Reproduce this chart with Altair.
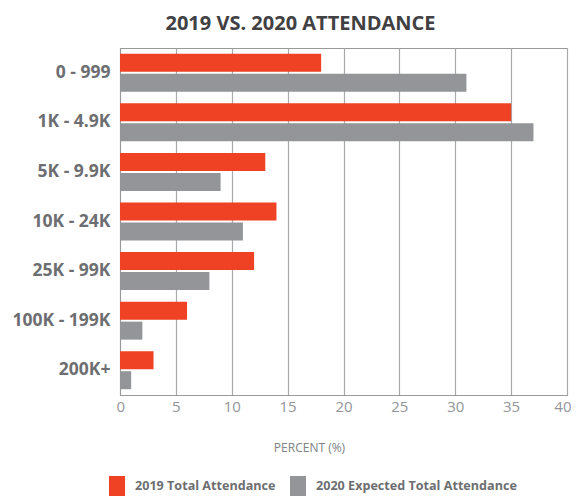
import altair as alt
import pandas as pd

categories = ["0 - 999", "1K - 4.9K", "5K - 9.9K", "10K - 24K", "25K - 99K", "100K - 199K", "200K+"]
series_2019 = [18, 35, 13, 14, 12, 6, 3]
series_2020 = [31, 37, 9, 11, 8, 2, 1]
series_names = ["2019 Total Attendance", "2020 Expected Total Attendance"]
x_ticks = [0, 5, 10, 15, 20, 25, 30, 35, 40]

rows = []
for c, a, b in zip(categories, series_2019, series_2020):
    rows.append({"cat": c, "series": series_names[0], "value": a})
    rows.append({"cat": c, "series": series_names[1], "value": b})
df = pd.DataFrame(rows)

FONT = "Open Sans"

chart = alt.Chart(df).mark_bar().encode(
    y=alt.Y("cat:N", sort=categories,
            scale=alt.Scale(paddingInner=0, paddingOuter=0),
            axis=alt.Axis(title=None, labelFontSize=17.5, labelFontWeight="bold",
                          labelColor="#6d6e71", labelFont=FONT, ticks=False,
                          labelPadding=10, domainColor="#999999", grid=False)),
    yOffset=alt.YOffset("series:N", sort=series_names,
                        scale=alt.Scale(paddingInner=0.1, paddingOuter=0.29)),
    x=alt.X("value:Q", scale=alt.Scale(domain=[0, 40], nice=False),
            axis=alt.Axis(values=x_ticks, title="PERCENT (%)", titleFont=FONT,
                          titleFontSize=12, titleFontWeight="normal", titleColor="#808285",
                          titleX=189, titleY=52, titleBaseline="middle",
                          labelFont=FONT, labelFontSize=15, labelColor="#939598",
                          labelFlush=True, labelFlushOffset=4, labelOverlap=False,
                          labelPadding=4, ticks=False, domainColor="#999999",
                          gridColor="#a7a9ac", gridWidth=1.2)),
    color=alt.Color("series:N", sort=series_names,
                    scale=alt.Scale(domain=series_names, range=["#ef4123", "#939598"]),
                    legend=alt.Legend(title=None, orient="none", legendX=-13, legendY=428,
                                      direction="horizontal",
                                      symbolType="M-0.8,-1L0.8,-1L0.8,1L-0.8,1Z",
                                      symbolSize=400, symbolStrokeWidth=0,
                                      symbolOpacity=1, labelLimit=400,
                                      labelFont=FONT, labelFontSize=12.6, labelFontWeight="bold",
                                      labelColor="#6d6e71", labelOffset=8,
                                      columnPadding=12, padding=0)),
).properties(
    width=447, height=347,
    title=alt.Title("2019 VS. 2020 ATTENDANCE", font=FONT, fontSize=20, fontWeight="bold",
                    color="#414042", anchor="middle", dx=-43, offset=14),
    autosize=alt.AutoSizeParams(type="none"),
    padding={"left": 112, "top": 40, "right": 4, "bottom": 101},
).configure_view(stroke="#999999", strokeWidth=1)

chart.save("out.html", embed_options={"renderer": "svg", "actions": False})
